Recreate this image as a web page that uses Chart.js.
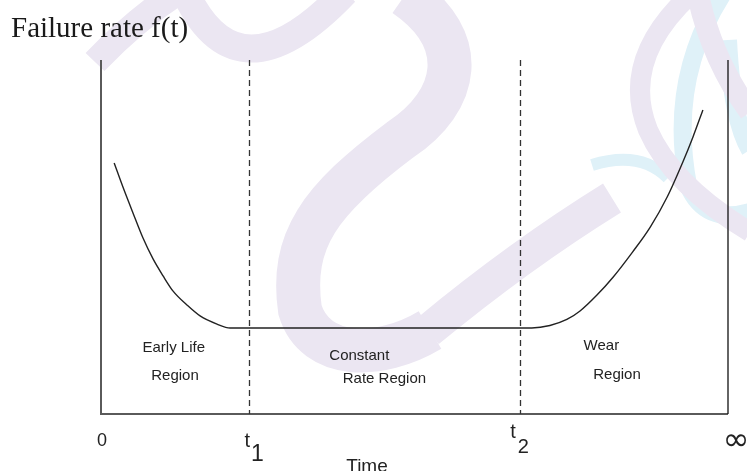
<!DOCTYPE html>
<html>
<head>
  <meta charset="utf-8">
  <title>Failure rate f(t)</title>
  <script src="https://cdn.jsdelivr.net/npm/chart.js"></script>
  <style>
    html, body { margin: 0; padding: 0; background: #fff; }
    #wrap { width: 747px; height: 471px; position: relative; }
  </style>
</head>
<body>
  <div id="wrap"><canvas id="bathtubChart"></canvas></div>

  <script>
    // bathtub curve, time on 0..100 (100 = infinity), rate on 0..100
    const timeVals = [2.1, 3.5, 5.1, 6.7, 8.3, 9.9, 11.5, 13.7, 15.8, 18.5, 20.6, 68.7, 71.6, 74.3, 76.4, 79.1, 81.7, 84.8, 87.6, 90.3, 92.8, 94.4, 96.0];
    const rateVals = [70.9, 64.1, 56.8, 49.7, 43.8, 39.0, 34.7, 30.8, 27.7, 25.4, 24.3, 24.3, 25.0, 26.7, 29.1, 33.6, 38.7, 45.8, 52.8, 61.3, 71.2, 78.2, 85.9];

    const T1 = 23.6;
    const T2 = 66.8;
    const T_END = 100;

    const tickValues = [0, T1, T2, T_END];
    const tickMain = ['0', 't', 't', '∞'];
    const tickSub = ['', '1', '2', ''];

    const regionLabels = [
      { lines: ['Early Life', 'Region'], x: [11.6, 11.8], y: [17.5, 9.6] },
      { lines: ['Constant', 'Rate Region'], x: [41.2, 45.2], y: [15.2, 8.8] },
      { lines: ['Wear', 'Region'], x: [79.8, 82.3], y: [18.1, 9.8] }
    ];

    const points = timeVals.map((t, i) => ({ x: t, y: rateVals[i] }));

    // faint logo watermark behind everything
    const watermark = {
      id: 'watermark',
      beforeDraw(chart) {
        const ctx = chart.ctx;
        ctx.save();
        ctx.lineCap = 'butt';
        const stroke = (color, width, fn) => {
          ctx.strokeStyle = color;
          ctx.lineWidth = width;
          ctx.beginPath();
          fn();
          ctx.stroke();
        };
        const lav = '#ebe6f2';
        const blue = '#dff1f8';
        stroke(lav, 26, () => { ctx.moveTo(95, 62); ctx.quadraticCurveTo(135, 20, 178, -8); });
        stroke(lav, 28, () => { ctx.moveTo(185, -8); ctx.quadraticCurveTo(238, 105, 345, -8); });
        stroke(lav, 44, () => {
          ctx.moveTo(405, -5);
          ctx.bezierCurveTo(470, 40, 460, 100, 400, 140);
          ctx.bezierCurveTo(320, 200, 290, 240, 300, 310);
          ctx.bezierCurveTo(315, 360, 380, 360, 430, 330);
        });
        stroke(lav, 34, () => { ctx.moveTo(428, 331); ctx.quadraticCurveTo(520, 255, 612, 198); });
        stroke(blue, 12, () => { ctx.moveTo(592, 165); ctx.quadraticCurveTo(640, 150, 668, 178); });
        stroke(blue, 18, () => { ctx.moveTo(722, -5); ctx.quadraticCurveTo(668, 80, 688, 185); ctx.quadraticCurveTo(705, 225, 750, 212); });
        stroke(blue, 18, () => { ctx.moveTo(728, 40); ctx.quadraticCurveTo(732, 120, 750, 150); });
        stroke(lav, 20, () => { ctx.moveTo(690, -5); ctx.quadraticCurveTo(620, 60, 648, 130); ctx.quadraticCurveTo(672, 185, 750, 232); });
        stroke(lav, 22, () => { ctx.moveTo(698, -5); ctx.quadraticCurveTo(712, 60, 750, 112); });
        ctx.restore();
      }
    };

    // axes, dashed region borders and all the text
    const decorations = {
      id: 'decorations',
      beforeDatasetsDraw(chart) {
        const { ctx, scales: { x, y } } = chart;
        const x0 = x.getPixelForValue(0);
        const xEnd = x.getPixelForValue(T_END);
        const yTop = y.getPixelForValue(100);
        const yBase = y.getPixelForValue(0);
        ctx.save();

        ctx.strokeStyle = '#5a5a5a';
        ctx.lineWidth = 2;
        ctx.beginPath();
        ctx.moveTo(x0, yTop);
        ctx.lineTo(x0, yBase);
        ctx.lineTo(xEnd, yBase);
        ctx.stroke();

        ctx.strokeStyle = '#111';
        ctx.lineWidth = 1.3;
        ctx.beginPath();
        ctx.moveTo(xEnd, yTop);
        ctx.lineTo(xEnd, yBase);
        ctx.stroke();

        ctx.strokeStyle = '#333';
        ctx.setLineDash([6, 4]);
        [T1, T2].forEach(t => {
          const px = Math.round(x.getPixelForValue(t)) + 0.5;
          ctx.beginPath();
          ctx.moveTo(px, yTop);
          ctx.lineTo(px, yBase);
          ctx.stroke();
        });
        ctx.restore();
      },
      afterDraw(chart) {
        const { ctx, scales: { x, y } } = chart;
        ctx.save();
        ctx.fillStyle = '#1a1a1a';

        ctx.font = '29px "Liberation Serif", "Times New Roman", serif';
        ctx.textAlign = 'left';
        ctx.textBaseline = 'alphabetic';
        ctx.fillText('Failure rate f(t)', 11, 37);

        ctx.fillStyle = '#222';
        ctx.font = '15px "Liberation Sans", Arial, sans-serif';
        ctx.textAlign = 'center';
        regionLabels.forEach(r => {
          r.lines.forEach((line, i) => {
            ctx.fillText(line, x.getPixelForValue(r.x[i]), y.getPixelForValue(r.y[i]));
          });
        });

        // tick labels under the time axis
        tickValues.forEach((v, i) => {
          const px = x.getPixelForValue(v);
          if (tickMain[i] === '∞') {
            ctx.font = '32px "DejaVu Sans", sans-serif';
            ctx.textAlign = 'center';
            ctx.textBaseline = 'middle';
            ctx.fillText(tickMain[i], px + 8, 442);
            return;
          }
          ctx.textBaseline = 'alphabetic';
          if (!tickSub[i]) {
            ctx.font = '18px "Liberation Sans", Arial, sans-serif';
            ctx.textAlign = 'center';
            ctx.fillText(tickMain[i], px + 1, 446);
            return;
          }
          const low = i === 1;
          ctx.font = '20px "Liberation Sans", Arial, sans-serif';
          ctx.textAlign = 'right';
          ctx.fillText(tickMain[i], px + (low ? 1 : -4), low ? 447 : 438);
          ctx.font = (low ? '23px' : '20px') + ' "Liberation Sans", Arial, sans-serif';
          ctx.textAlign = 'left';
          ctx.fillText(tickSub[i], px + (low ? 2 : -2), low ? 461 : 453);
        });

        ctx.font = '19px "Liberation Sans", Arial, sans-serif';
        ctx.textAlign = 'center';
        ctx.fillText('Time', 367, 467);
        ctx.restore();
      }
    };

    new Chart(document.getElementById('bathtubChart'), {
      type: 'line',
      data: {
        datasets: [{
          label: 'Failure rate',
          data: points,
          borderColor: '#222',
          borderWidth: 1.4,
          pointRadius: 0,
          fill: false,
          cubicInterpolationMode: 'monotone'
        }]
      },
      options: {
        responsive: true,
        maintainAspectRatio: false,
        animation: false,
        layout: { padding: { left: 101, right: 19, top: 60, bottom: 57 } },
        plugins: { legend: { display: false }, tooltip: { enabled: false } },
        scales: {
          x: { type: 'linear', min: 0, max: T_END, display: false },
          y: { type: 'linear', min: 0, max: 100, display: false }
        }
      },
      plugins: [watermark, decorations]
    });
  </script>
</body>
</html>
